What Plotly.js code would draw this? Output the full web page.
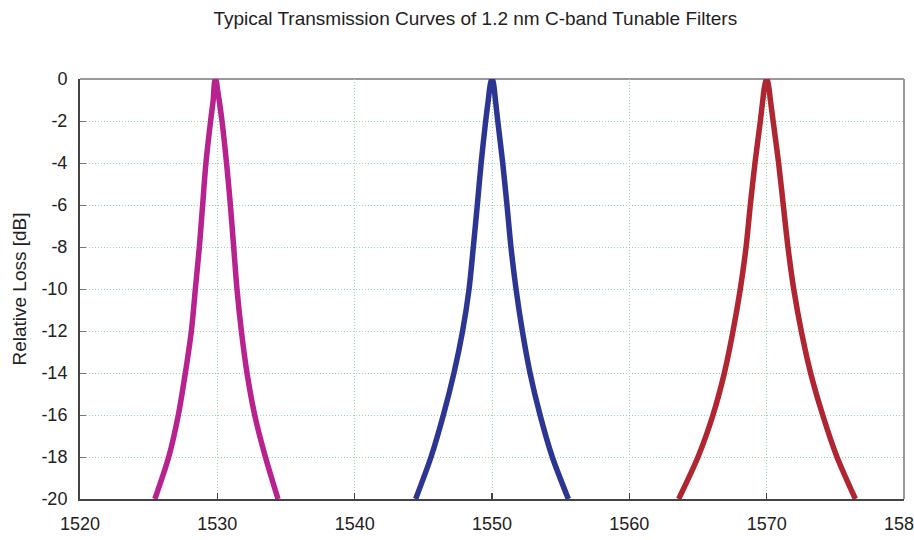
<!DOCTYPE html>
<html>
<head>
<meta charset="utf-8">
<script src="https://cdn.plot.ly/plotly-3.0.1.min.js"></script>
<style>html,body{margin:0;padding:0;background:#fff;}#chart{width:914px;height:540px;}</style>
</head>
<body>
<div id="chart"></div>
<script>
// Relative loss levels (dB) at which the flanks were read, bottom to top
var levels = [-20, -18, -16, -14, -12, -10, -8, -6, -4, -2, -1, -0.5, -0.15, 0];

// Wavelengths (nm) at each level: left flank (ending at peak) and right flank
var ch1530Left  = [1525.45, 1526.46, 1527.16, 1527.67, 1528.11, 1528.40, 1528.69, 1528.93, 1529.17, 1529.51, 1529.70, 1529.75, 1529.80, 1529.87];
var ch1530Right = [1534.42, 1533.50, 1532.72, 1532.16, 1531.75, 1531.43, 1531.19, 1530.95, 1530.67, 1530.34, 1530.13, 1530.01, 1529.94];

var ch1550Left  = [1544.44, 1545.56, 1546.46, 1547.23, 1547.86, 1548.33, 1548.64, 1548.93, 1549.21, 1549.54, 1549.73, 1549.82, 1549.91, 1550.00];
var ch1550Right = [1555.56, 1554.39, 1553.50, 1552.77, 1552.21, 1551.75, 1551.38, 1551.09, 1550.78, 1550.42, 1550.25, 1550.17, 1550.09];

var ch1570Left  = [1563.59, 1565.00, 1566.09, 1566.92, 1567.55, 1568.08, 1568.50, 1568.81, 1569.15, 1569.54, 1569.72, 1569.81, 1569.91, 1570.00];
var ch1570Right = [1576.46, 1575.12, 1574.08, 1573.20, 1572.52, 1571.97, 1571.55, 1571.21, 1570.87, 1570.47, 1570.27, 1570.18, 1570.09];

var seriesNames  = ["1530 nm", "1550 nm", "1570 nm"];
var seriesColors = ["#b7228f", "#2d3592", "#b02532"];

var xTicks = [1520, 1530, 1540, 1550, 1560, 1570, 1580];
var yTicks = [0, -2, -4, -6, -8, -10, -12, -14, -16, -18, -20];

function buildCurve(left, right) {
  var rightLevels = levels.slice(0, right.length).reverse();
  return {
    x: left.concat(right.slice().reverse()),
    y: levels.concat(rightLevels)
  };
}

var pairs = [[ch1530Left, ch1530Right], [ch1550Left, ch1550Right], [ch1570Left, ch1570Right]];
var traces = pairs.map(function (p, i) {
  var c = buildCurve(p[0], p[1]);
  return {
    x: c.x, y: c.y, type: 'scatter', mode: 'lines', name: seriesNames[i],
    line: {color: seriesColors[i], width: 5.5, shape: 'spline', smoothing: 0.8},
    cliponaxis: false, hoverinfo: 'x+y'
  };
});

var font = 'Liberation Sans, Arial, sans-serif';
var layout = {
  width: 914, height: 540,
  margin: {l: 80, r: 10, t: 79, b: 41},
  paper_bgcolor: '#fff', plot_bgcolor: '#fff',
  showlegend: false,
  title: {text: 'Typical Transmission Curves of 1.2 nm C-band Tunable Filters',
          font: {family: font, size: 19, color: '#222'},
          x: 0.52, xanchor: 'center', y: 0.966, yanchor: 'middle', xref: 'container', yref: 'container'},
  xaxis: {
    range: [1520, 1580], tickvals: xTicks, ticktext: xTicks.map(String),
    showgrid: true, gridcolor: '#9ad8ae', griddash: '1px,2px', gridwidth: 1,
    showline: true, linecolor: '#444', linewidth: 2, mirror: false,
    ticks: 'inside', ticklen: 6, tickcolor: '#444', tickwidth: 1.5,
    tickfont: {family: font, size: 18, color: '#222'}, ticklabelstandoff: 7,
    ticklabeloverflow: 'allow',
    zeroline: false, fixedrange: true
  },
  yaxis: {
    range: [-20, 0], tickvals: yTicks, ticktext: yTicks.map(String),
    showgrid: true, gridcolor: '#9ad8ae', griddash: '1px,2px', gridwidth: 1,
    showline: true, linecolor: '#444', linewidth: 2, mirror: false,
    ticks: 'inside', ticklen: 6, tickcolor: '#777', tickwidth: 1,
    tickfont: {family: font, size: 18, color: '#222'}, ticklabelstandoff: 7,
    title: {text: 'Relative Loss [dB]', font: {family: font, size: 19, color: '#222'}, standoff: 10},
    zeroline: false, fixedrange: true
  },
  shapes: [
    {type: 'line', xref: 'paper', yref: 'paper', x0: 0, x1: 1, y0: 1, y1: 1, line: {color: '#999', width: 2}, layer: 'below'},
    {type: 'line', xref: 'paper', yref: 'paper', x0: 1, x1: 1, y0: 0, y1: 1, line: {color: '#999', width: 2}}
  ]
};

Plotly.newPlot('chart', traces, layout, {staticPlot: true, displayModeBar: false});
</script>
</body>
</html>
